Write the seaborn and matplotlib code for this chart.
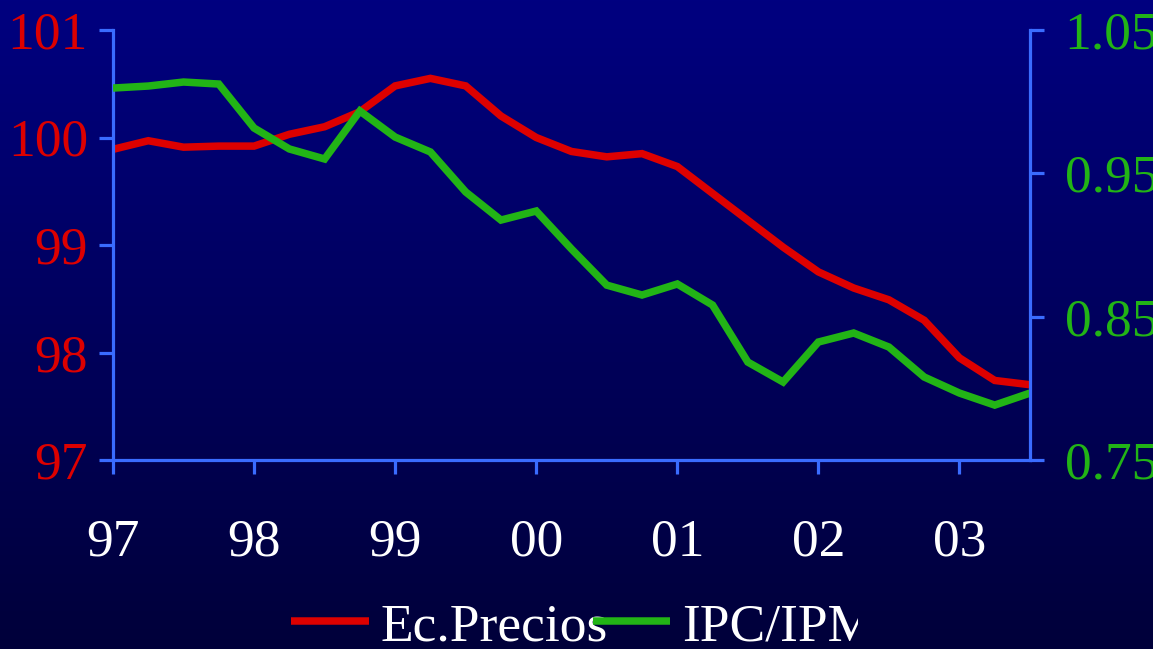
import numpy as np
import pandas as pd
import matplotlib
matplotlib.use("Agg")
import matplotlib.pyplot as plt
import seaborn as sns
from matplotlib.transforms import Bbox

# ---- data (quarterly, 1997Q1 .. 2003Q3) ----
quarter_idx = list(range(27))
ec_precios = [99.89, 99.97, 99.91, 99.92, 99.92, 100.03, 100.10, 100.24, 100.48,
              100.55, 100.48, 100.20, 100.00, 99.87, 99.82, 99.85, 99.73, 99.48,
              99.23, 98.98, 98.75, 98.60, 98.49, 98.30, 97.95, 97.74, 97.70]
ipc_ipm = [1.0095, 1.0109, 1.0137, 1.0123, 0.9816, 0.9670, 0.9600, 0.9935, 0.9753,
           0.9649, 0.9370, 0.9174, 0.9237, 0.8972, 0.8720, 0.8651, 0.8728, 0.8581,
           0.8183, 0.8044, 0.8323, 0.8386, 0.8288, 0.8079, 0.7967, 0.7883, 0.7967]
year_ticks = [0, 4, 8, 12, 16, 20, 24]
year_labels = ["97", "98", "99", "00", "01", "02", "03"]
left_ticks = [97, 98, 99, 100, 101]
right_ticks = [0.75, 0.85, 0.95, 1.05]
right_labels = ["0.75", "0.85", "0.95", "1.05"]

df = pd.DataFrame({"q": quarter_idx, "ec": ec_precios, "ipc": ipc_ipm})

RED = "#dd0000"
GREEN = "#22b416"
SPINE = "#3a6cff"
FONT = ["Liberation Serif", "DejaVu Serif"]
FS = 38.5
LW = 5.4

sns.set_theme(style="white")
plt.rcParams["font.family"] = FONT

W, H = 1153, 649
fig = plt.figure(figsize=(W / 100, H / 100), dpi=100)

# gradient background
bg = fig.add_axes([0, 0, 1, 1], zorder=-5)
grad = np.linspace(0, 1, 256).reshape(-1, 1)
top = np.array([0, 0, 128]) / 255
bot = np.array([0, 0, 58]) / 255
img = top[None, None, :] * (1 - grad[:, :, None]) + bot[None, None, :] * grad[:, :, None]
bg.imshow(img, aspect="auto", extent=[0, 1, 0, 1], origin="upper")
bg.set_axis_off()

ax = fig.add_axes([113 / W, 1 - 460 / H, (1030 - 113) / W, (460 - 30) / H])
ax.patch.set_alpha(0)
ax2 = ax.twinx()
ax2.patch.set_alpha(0)

sns.lineplot(data=df, x="q", y="ec", ax=ax, color=RED, linewidth=LW,
             label="Ec.Precios", legend=False)
sns.lineplot(data=df, x="q", y="ipc", ax=ax2, color=GREEN, linewidth=LW,
             label="IPC/IPM", legend=False)
for a in (ax, ax2):
    for ln in a.get_lines():
        ln.set_solid_capstyle("butt")
        ln.set_solid_joinstyle("miter")

ax.set_xlim(0, 26)
ax.set_ylim(97, 101)
ax2.set_ylim(0.75, 1.05)
ax.set_xticks(year_ticks)
ax.set_xticklabels(year_labels)
ax.set_yticks(left_ticks)
ax.set_yticklabels([str(t) for t in left_ticks])
ax2.set_yticks(right_ticks)
ax2.set_yticklabels(right_labels)
ax.set_xlabel("")
ax.set_ylabel("")
ax2.set_ylabel("")
ax.grid(False)
ax2.grid(False)

for a in (ax, ax2):
    for s in ("left", "right", "bottom"):
        a.spines[s].set_color(SPINE)
        a.spines[s].set_linewidth(2.3)
    a.spines["top"].set_visible(False)
ax.spines["right"].set_visible(False)
ax2.spines["left"].set_visible(False)
ax2.spines["bottom"].set_visible(False)

ax.tick_params(axis="x", direction="out", length=10, width=2.3, color=SPINE,
               labelsize=FS, labelcolor="white", pad=32, bottom=True)
ax.tick_params(axis="y", direction="out", length=10, width=2.3, color=SPINE,
               labelsize=FS, labelcolor=RED, pad=8, left=True)
ax2.tick_params(axis="y", direction="out", length=10, width=2.3, color=SPINE,
                labelsize=FS, labelcolor=GREEN, pad=15, right=True)

handles = ax.get_lines()[:1] + ax2.get_lines()[:1]
labels = ["Ec.Precios", "IPC/IPM"]
leg = fig.legend(handles, labels, loc="center left",
                 bbox_to_anchor=(291 / W, 1 - 627 / H), ncol=2, frameon=False,
                 fontsize=FS, handlelength=1.45, handletextpad=0.22,
                 columnspacing=-0.28, borderpad=0, borderaxespad=0)
clip = Bbox([[0, 0], [858, H]])
for t in leg.get_texts():
    t.set_color("white")
    t.set_clip_box(clip)
    t.set_clip_on(True)
for l in leg.get_lines():
    l.set_linewidth(LW)

fig.savefig("out.png", dpi=100)
